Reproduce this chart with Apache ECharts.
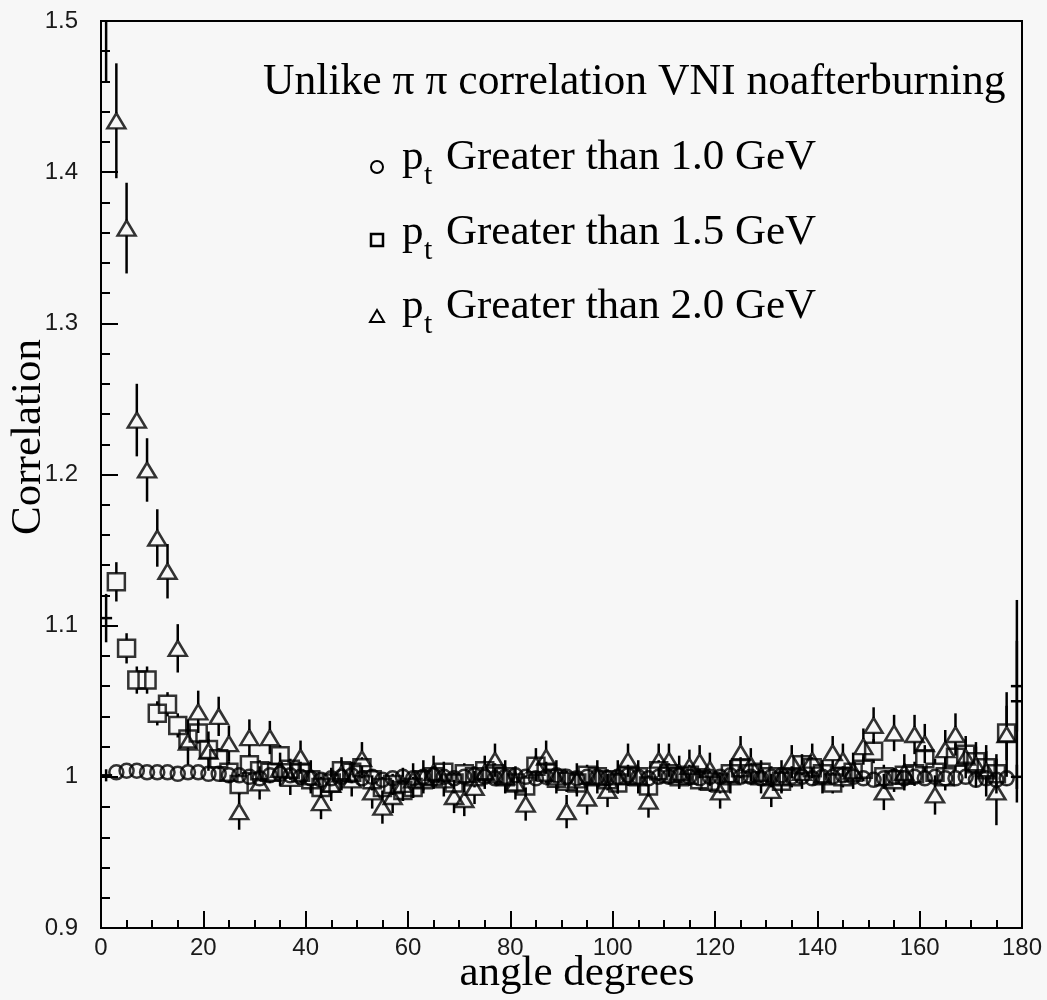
<!DOCTYPE html>
<html><head><meta charset="utf-8">
<script src="https://cdn.jsdelivr.net/npm/echarts@6/dist/echarts.min.js"></script>
<style>html,body{margin:0;padding:0;background:#f7f7f7}#chart{width:1047px;height:1000px}</style>
</head><body><div id="chart"></div>
<script>
// ---- data ----
const angles = [1,3,5,7,9,11,13,15,17,19,21,23,25,27,29,31,33,35,37,39,41,43,45,47,49,51,53,55,57,59,61,63,65,67,69,71,73,75,77,79,81,83,85,87,89,91,93,95,97,99,101,103,105,107,109,111,113,115,117,119,121,123,125,127,129,131,133,135,137,139,141,143,145,147,149,151,153,155,157,159,161,163,165,167,169,171,173,175,177,179];

// pt > 1.0 GeV (circles)
const corr10 = [1.001,
 1.003,1.004,1.004,1.003,1.003,1.003,1.002,1.003,1.003,1.002,
 1.002,1.001,1.001,1.000,0.999,1.001,1.002,1.001,1.000,0.999,
 0.998,0.999,1.000,1.001,0.999,1.000,0.998,0.999,1.000,0.999,
 1.000,1.001,1.000,0.999,1.000,1.001,1.000,0.999,1.000,1.001,
 1.000,0.999,1.000,1.001,1.000,0.999,1.000,1.000,0.999,1.000,
 1.001,1.000,0.999,1.000,1.000,1.001,1.000,0.999,1.000,1.000,
 1.001,1.000,1.000,0.999,1.000,1.001,1.000,1.000,0.999,1.000,
 1.000,1.001,1.000,0.999,0.998,0.999,1.000,0.999,1.000,0.999,
 1.000,0.999,0.999,1.000,0.998,0.999,0.998,0.999,1.000];
const err10 = [0.004,
 0.003,0.003,0.003,0.003,0.003,0.003,0.003,0.003,0.003,0.003,
 0.003,0.003,0.003,0.003,0.003,0.003,0.003,0.003,0.003,0.003,
 0.003,0.003,0.003,0.003,0.003,0.003,0.003,0.003,0.003,0.003,
 0.003,0.003,0.003,0.003,0.003,0.003,0.003,0.003,0.003,0.003,
 0.003,0.003,0.003,0.003,0.003,0.003,0.003,0.003,0.003,0.003,
 0.003,0.003,0.003,0.003,0.003,0.003,0.003,0.003,0.003,0.003,
 0.003,0.003,0.003,0.003,0.003,0.003,0.003,0.003,0.003,0.003,
 0.003,0.003,0.003,0.003,0.003,0.003,0.003,0.003,0.003,0.003,
 0.003,0.003,0.003,0.003,0.003,0.003,0.004,0.005,0.008];

// pt > 1.5 GeV (squares)
const corr15 = [1.105,
 1.129,1.085,1.064,1.064,1.042,1.048,1.034,1.025,1.029,1.018,
 1.012,1.003,0.995,1.008,1.004,1.003,1.014,1.005,1.003,0.998,
 0.993,0.996,1.004,1.003,1.006,0.998,0.993,0.995,0.991,0.993,
 0.998,1.000,1.003,0.996,1.002,1.000,1.004,1.002,1.000,0.996,
 0.994,1.007,1.003,0.999,0.997,0.996,1.001,1.000,0.998,0.996,
 1.001,1.000,0.994,1.004,1.002,1.000,1.001,0.998,0.997,0.996,
 1.002,1.006,1.002,1.003,1.000,0.997,1.000,1.008,1.006,1.002,
 0.996,1.000,1.003,1.005,1.017,1.000,0.998,1.001,1.002,1.012,
 1.003,1.000,1.013,1.015,1.010,1.006,1.002,1.029,1.060];
const err15 = [0.016,
 0.013,0.010,0.009,0.009,0.008,0.008,0.008,0.007,0.007,0.007,
 0.007,0.007,0.007,0.007,0.007,0.007,0.007,0.007,0.007,0.007,
 0.007,0.007,0.007,0.007,0.007,0.007,0.007,0.007,0.007,0.007,
 0.007,0.007,0.007,0.007,0.007,0.007,0.007,0.007,0.007,0.007,
 0.007,0.007,0.007,0.007,0.007,0.007,0.007,0.007,0.007,0.007,
 0.007,0.007,0.007,0.007,0.007,0.007,0.007,0.007,0.007,0.007,
 0.007,0.007,0.007,0.007,0.007,0.007,0.007,0.007,0.007,0.007,
 0.007,0.007,0.007,0.008,0.008,0.008,0.008,0.008,0.008,0.009,
 0.009,0.009,0.009,0.010,0.010,0.011,0.013,0.018,0.030];

// pt > 2.0 GeV (triangles)
const corr20 = [1.550,
 1.434,1.363,1.236,1.203,1.158,1.136,1.085,1.023,1.043,1.017,
 1.040,1.022,0.977,1.026,0.996,1.026,1.005,0.999,1.013,1.000,
 0.983,0.995,1.002,0.998,1.012,0.990,0.980,0.987,0.995,0.998,
 1.000,1.003,0.998,0.987,0.985,0.993,1.003,1.011,1.000,0.996,
 0.982,1.008,1.013,1.000,0.977,0.998,0.986,1.000,0.991,1.000,
 1.011,1.000,0.984,1.011,1.011,1.003,1.007,1.010,1.005,0.990,
 1.000,1.016,1.008,1.000,0.991,1.000,1.010,1.003,1.011,1.000,
 1.016,1.011,1.004,1.020,1.034,0.990,1.029,1.003,1.028,1.022,
 0.988,1.018,1.028,1.013,1.008,1.004,0.990,1.028,1.050];
const err20 = [0.090,
 0.038,0.030,0.024,0.021,0.019,0.018,0.016,0.015,0.014,0.013,
 0.013,0.012,0.012,0.012,0.011,0.011,0.011,0.011,0.011,0.011,
 0.011,0.011,0.011,0.011,0.011,0.011,0.011,0.011,0.011,0.011,
 0.011,0.011,0.011,0.011,0.011,0.011,0.011,0.011,0.011,0.011,
 0.011,0.011,0.011,0.011,0.011,0.011,0.011,0.011,0.011,0.011,
 0.011,0.011,0.011,0.011,0.011,0.011,0.011,0.011,0.011,0.011,
 0.011,0.011,0.011,0.011,0.011,0.011,0.011,0.011,0.011,0.011,
 0.011,0.011,0.012,0.012,0.012,0.012,0.012,0.012,0.013,0.013,
 0.013,0.013,0.014,0.014,0.015,0.017,0.022,0.028,0.067];

// bins drawn without a marker (at the frame edges)
const noMarkerAngles = [1, 179];

const xTickValues = [0,20,40,60,80,100,120,140,160,180];
const xTickLabels = ['0','20','40','60','80','100','120','140','160','180'];
const yTickValues = [0.9,1.0,1.1,1.2,1.3,1.4,1.5];
const yTickLabels = ['0.9','1','1.1','1.2','1.3','1.4','1.5'];

const titleText = 'Unlike \u03c0 \u03c0 correlation VNI noafterburning';
const legendTexts = ['Greater than 1.0 GeV','Greater than 1.5 GeV','Greater than 2.0 GeV'];
const xName = 'angle degrees';
const yName = 'Correlation';

// ---- build ----
function markerData(vals) {
  const out = [];
  angles.forEach((a, i) => { if (noMarkerAngles.indexOf(a) < 0) out.push([a, vals[i]]); });
  return out;
}
function errData(vals, errs) {
  return angles.map((a, i) => [a, vals[i], errs[i], noMarkerAngles.indexOf(a) < 0 ? 1 : 0]);
}
const LW = 2.5;
function errRender(gap) {
  return function (params, api) {
    const x = api.value(0), y = api.value(1), e = api.value(2), m = api.value(3);
    const c = api.coord([x, y]);
    const top = api.coord([x, y + e]);
    const bot = api.coord([x, y - e]);
    const g = m ? gap : 0;
    const style = { stroke: '#000', lineWidth: LW };
    const ch = [];
    if (c[1] - g > top[1]) ch.push({ type: 'line', shape: { x1: c[0], y1: top[1], x2: c[0], y2: c[1] - g }, style });
    if (bot[1] > c[1] + g) ch.push({ type: 'line', shape: { x1: c[0], y1: c[1] + g, x2: c[0], y2: bot[1] }, style });
    if (!m) ch.push({ type: 'line', shape: { x1: c[0] - 6, y1: c[1], x2: c[0] + 6, y2: c[1] }, style });
    return { type: 'group', children: ch };
  };
}
const hollow = { color: 'rgba(0,0,0,0)', borderColor: '#000', borderWidth: LW };
const labelFont = { fontFamily: '"Liberation Sans", Arial, sans-serif', fontSize: 24, color: '#1a1a1a' };
const serif = '"Liberation Serif", "Times New Roman", serif';

function lookup(vals, labels, v) {
  for (let i = 0; i < vals.length; i++) if (Math.abs(vals[i] - v) < 1e-6) return labels[i];
  return '';
}

const chart = echarts.init(document.getElementById('chart'), null, { renderer: 'canvas' });

const legendY = [158, 233, 307];
const graphics = [
  { type: 'text', x: 263, y: 83, style: { text: titleText, fontFamily: serif, fontSize: 43.6, fill: '#000', align: 'left', verticalAlign: 'middle' } },
  { type: 'text', x: 29, y: 437, rotation: Math.PI / 2, style: { text: yName, fontFamily: serif, fontSize: 43, fill: '#000', align: 'center', verticalAlign: 'middle' } },
  { type: 'text', x: 577, y: 974, style: { text: xName, fontFamily: serif, fontSize: 43, fill: '#000', align: 'center', verticalAlign: 'middle' } },
  { type: 'circle', shape: { cx: 377, cy: legendY[0] + 9, r: 6 }, style: { fill: 'none', stroke: '#000', lineWidth: 2 } },
  { type: 'rect', shape: { x: 371, y: legendY[1] + 1, width: 12, height: 12 }, style: { fill: 'none', stroke: '#000', lineWidth: 2.5 } },
  { type: 'polygon', shape: { points: [[377, legendY[2] + 3], [370, legendY[2] + 15], [384, legendY[2] + 15]] }, style: { fill: 'none', stroke: '#000', lineWidth: 2 } }
];
legendY.forEach((y, i) => {
  graphics.push({ type: 'text', x: 402, y: y, style: { text: 'p', fontFamily: serif, fontSize: 43, fill: '#000', align: 'left', verticalAlign: 'middle' } });
  graphics.push({ type: 'text', x: 424, y: y + 18, style: { text: 't', fontFamily: serif, fontSize: 30, fill: '#000', align: 'left', verticalAlign: 'middle' } });
  graphics.push({ type: 'text', x: 446, y: y, style: { text: legendTexts[i], fontFamily: serif, fontSize: 43, fill: '#000', align: 'left', verticalAlign: 'middle' } });
});

const option = {
  backgroundColor: '#f7f7f7',
  animation: false,
  grid: { left: 101, right: 25, top: 21, bottom: 72, show: true, borderColor: '#000', borderWidth: 2, backgroundColor: 'transparent' },
  xAxis: {
    type: 'value', min: 0, max: 180, interval: 20,
    axisLine: { lineStyle: { color: '#000', width: 2 } },
    axisTick: { inside: true, length: 17, lineStyle: { color: '#000', width: 2 } },
    minorTick: { show: true, splitNumber: 4, length: 8, lineStyle: { color: '#000', width: 2 } },
    splitLine: { show: false },
    axisLabel: Object.assign({ margin: 8, formatter: v => lookup(xTickValues, xTickLabels, v) }, labelFont)
  },
  yAxis: {
    type: 'value', min: 0.9, max: 1.5, interval: 0.1,
    axisLine: { lineStyle: { color: '#000', width: 2 } },
    axisTick: { inside: true, length: 17, lineStyle: { color: '#000', width: 2 } },
    minorTick: { show: true, splitNumber: 5, length: 9, lineStyle: { color: '#000', width: 2 } },
    splitLine: { show: false },
    axisLabel: Object.assign({ margin: 23, formatter: v => lookup(yTickValues, yTickLabels, v) }, labelFont)
  },
  series: [
    { type: 'custom', name: 'e10', clip: true, renderItem: errRender(7), data: errData(corr10, err10), z: 2 },
    { type: 'custom', name: 'e15', clip: true, renderItem: errRender(8.5), data: errData(corr15, err15), z: 2 },
    { type: 'custom', name: 'e20', clip: true, renderItem: errRender(7.5), data: errData(corr20, err20), z: 2 },
    { type: 'scatter', name: 'pt > 1.0 GeV', symbol: 'circle', symbolSize: 14, itemStyle: hollow, data: markerData(corr10), clip: true, z: 3 },
    { type: 'scatter', name: 'pt > 1.5 GeV', symbol: 'rect', symbolSize: 17, itemStyle: hollow, data: markerData(corr15), clip: true, z: 3 },
    { type: 'scatter', name: 'pt > 2.0 GeV', symbol: 'triangle', symbolSize: [18, 15], itemStyle: hollow, data: markerData(corr20), clip: true, z: 3 }
  ],
  graphic: graphics
};
chart.setOption(option);
</script></body></html>
